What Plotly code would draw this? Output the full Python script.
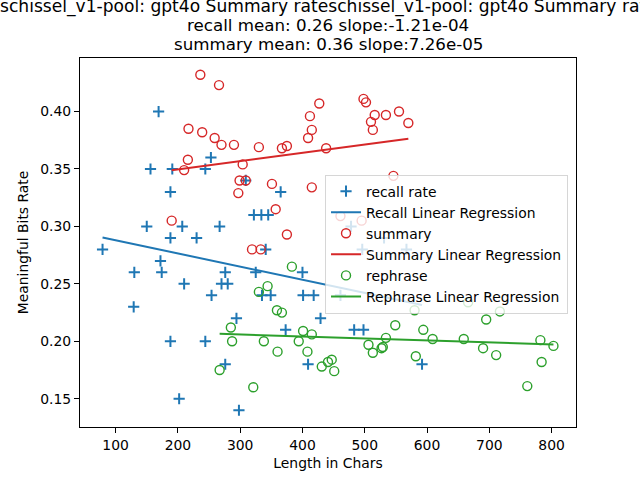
import numpy as np
import plotly.graph_objects as go

# recall rate points (length in chars, meaningful bits rate)
recall_len = [79, 129, 130, 150, 156, 169, 172, 174, 188, 188, 188, 191, 202, 207, 210,
              230, 244, 244, 253, 254, 267, 270, 280, 276, 276, 294, 298, 309, 322, 334,
              345, 325, 335, 349, 341, 365, 373, 400, 401, 418, 409, 429, 478, 483, 498,
              496, 531, 567, 461, 592]
recall_rate = [0.28, 0.23, 0.26, 0.30, 0.35, 0.40, 0.27, 0.26, 0.33, 0.29, 0.20, 0.35, 0.15, 0.30, 0.25,
               0.29, 0.35, 0.20, 0.36, 0.24, 0.30, 0.25, 0.25, 0.26, 0.18, 0.22, 0.14, 0.34, 0.31, 0.31,
               0.31, 0.26, 0.24, 0.24, 0.28, 0.33, 0.21, 0.26, 0.24, 0.24, 0.18, 0.22, 0.30, 0.21, 0.21,
               0.28, 0.29, 0.28, 0.24, 0.18]

# summary points
summary_len = [236, 266, 217, 239, 259, 270, 290, 216, 210, 304, 299, 309, 297, 190, 498,
               502, 427, 412, 516, 534, 555, 570, 510, 513, 415, 409, 330, 367, 375, 438,
               546, 351, 415, 357, 375, 319, 333, 461, 495]
summary_rate = [0.432, 0.423, 0.385, 0.382, 0.377, 0.371, 0.371, 0.358, 0.349, 0.354, 0.340, 0.340, 0.329, 0.305, 0.411,
                0.408, 0.407, 0.396, 0.397, 0.397, 0.400, 0.390, 0.391, 0.384, 0.384, 0.377, 0.369, 0.368, 0.370, 0.368,
                0.344, 0.337, 0.334, 0.315, 0.293, 0.280, 0.280, 0.309, 0.305]

# rephrase points
rephrase_len = [285, 287, 267, 383, 344, 330, 359, 367, 401, 415, 338, 394, 360, 408, 549,
                534, 506, 513, 527, 529, 441, 447, 431, 451, 321, 580, 695, 717, 594, 609,
                659, 690, 711, 582, 782, 803, 784, 761, 666]
rephrase_rate = [0.212, 0.200, 0.175, 0.265, 0.248, 0.243, 0.227, 0.225, 0.209, 0.206, 0.200, 0.200, 0.191, 0.191, 0.214,
                 0.203, 0.197, 0.190, 0.194, 0.195, 0.182, 0.184, 0.178, 0.174, 0.160, 0.227, 0.219, 0.226, 0.210, 0.202,
                 0.202, 0.194, 0.188, 0.187, 0.201, 0.196, 0.182, 0.161, 0.234]

title_lines = [
    "schissel_v1-pool: gpt4o Summary rateschissel_v1-pool: gpt4o Summary rate",
    "recall mean: 0.26 slope:-1.21e-04",
    "summary mean: 0.36 slope:7.26e-05",
]

BLUE = "#1f77b4"
RED = "#d62728"
GREEN = "#2ca02c"
FONT = "DejaVu Sans"
W, H = 640, 480
M_L, M_R, M_T, M_B = 80, 64, 58, 53


def fit_line(x, y):
    x = np.array(x, dtype=float)
    slope, intercept = np.polyfit(x, np.array(y, dtype=float), 1)
    xs = np.array([x.min(), x.max()])
    return xs, slope * xs + intercept


def pad_range(*series):
    vals = np.concatenate([np.array(s, dtype=float) for s in series])
    lo, hi = vals.min(), vals.max()
    m = 0.05 * (hi - lo)
    return [lo - m, hi + m]


fig = go.Figure()

series = [
    (recall_len, recall_rate, "recall rate", "Recall Linear Regression", BLUE, "cross-thin"),
    (summary_len, summary_rate, "summary", "Summary Linear Regression", RED, "circle-open"),
    (rephrase_len, rephrase_rate, "rephrase", "Rephrase Linear Regression", GREEN, "circle-open"),
]

for xs, ys, name, reg_name, color, symbol in series:
    fig.add_trace(go.Scatter(
        x=xs, y=ys, mode="markers", name=name,
        marker=dict(symbol=symbol, size=9 if symbol == "circle-open" else 8, color=color,
                    line=dict(color=color, width=1.4 if symbol == "circle-open" else 2)),
    ))
    lx, ly = fit_line(xs, ys)
    fig.add_trace(go.Scatter(
        x=lx, y=ly, mode="lines", name=reg_name,
        line=dict(color=color, width=2),
    ))

axis_style = dict(
    showline=True, mirror=True, linecolor="black", linewidth=1,
    ticks="outside", ticklen=5, tickwidth=1, tickcolor="black",
    showgrid=False, zeroline=False, automargin=False,
    tickfont=dict(family=FONT, size=13.9, color="black"),
)

# title lines placed one by one (centre of each line, px from the top)
plot_h = H - M_T - M_B
line_centres = [6, 25, 44]
line_sizes = [17.1, 16.7, 16.7]
annotations = [
    dict(text=t, x=0.5, xref="paper", xanchor="center",
         y=1 + (M_T - c) / plot_h, yref="paper", yanchor="middle", showarrow=False,
         font=dict(family=FONT, size=s, color="black"))
    for t, c, s in zip(title_lines, line_centres, line_sizes)
]

fig.update_layout(
    width=W,
    height=H,
    margin=dict(l=M_L, r=M_R, t=M_T, b=M_B),
    paper_bgcolor="white",
    plot_bgcolor="white",
    font=dict(family=FONT, color="black"),
    annotations=annotations,
    xaxis=dict(
        range=pad_range(recall_len, summary_len, rephrase_len),
        dtick=100,
        title=dict(text="Length in Chars", font=dict(family=FONT, size=13.9), standoff=6),
        **axis_style,
    ),
    yaxis=dict(
        range=pad_range(recall_rate, summary_rate, rephrase_rate),
        dtick=0.05,
        tickformat=".2f",
        title=dict(text="Meaningful Bits Rate", font=dict(family=FONT, size=13.9), standoff=8),
        **axis_style,
    ),
    legend=dict(
        x=0.494, y=0.684, xanchor="left", yanchor="top",
        bgcolor="rgba(255,255,255,0.8)",
        bordercolor="rgba(204,204,204,0.8)", borderwidth=1,
        font=dict(family=FONT, size=13.9, color="black"),
        itemwidth=30,
    ),
    showlegend=True,
)

# drop the default page margin so the figure sits at the window's corner
fig.write_html("out.html", config={"displayModeBar": False},
               post_script="document.body.style.margin='0';")
